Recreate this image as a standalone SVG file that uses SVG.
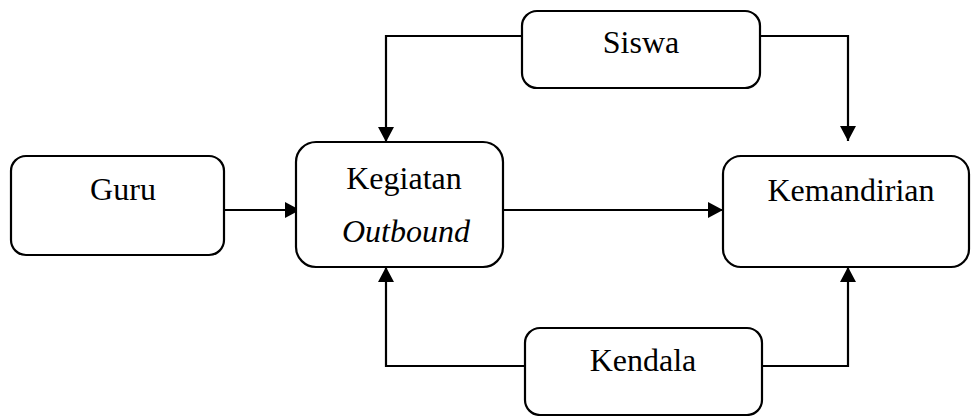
<svg xmlns="http://www.w3.org/2000/svg" width="971" height="416" viewBox="0 0 971 416">
<defs>
<style>
.box{fill:#fff;stroke:#000;stroke-width:2.2}
.t{font-family:"Liberation Serif","Times New Roman",serif;font-size:32px;fill:#000;text-anchor:middle}
.c{fill:none;stroke:#000;stroke-width:2.2}
</style>
<marker id="ah" viewBox="0 0 15 16" refX="15" refY="8" markerWidth="15" markerHeight="16" markerUnits="userSpaceOnUse" orient="auto">
<path d="M0,0 L15,8 L0,16 Z" fill="#000"/>
</marker>
</defs>
<rect width="971" height="416" fill="#fff"/>
<g id="connectors">
<path class="c" d="M224,210 H300" marker-end="url(#ah)"/>
<path class="c" d="M499,210 H723" marker-end="url(#ah)"/>
<path class="c" d="M522,36 H386 V142" marker-end="url(#ah)"/>
<path class="c" d="M760,36 H848 V141" marker-end="url(#ah)"/>
<path class="c" d="M525,366 H386 V267" marker-end="url(#ah)"/>
<path class="c" d="M762,366 H848 V267" marker-end="url(#ah)"/>
</g>
<g id="guru">
<rect class="box" x="11" y="156" width="213" height="99" rx="15"/>
<text class="t" x="123" y="200">Guru</text>
</g>
<g id="kegiatan">
<rect class="box" x="296" y="142" width="207" height="125" rx="20"/>
<text class="t" x="404" y="189">Kegiatan</text>
<text class="t" x="406" y="242" font-style="italic">Outbound</text>
</g>
<g id="kemandirian">
<rect class="box" x="723" y="156" width="246" height="111" rx="18"/>
<text class="t" x="851" y="201">Kemandirian</text>
</g>
<g id="siswa">
<rect class="box" x="522" y="11" width="238" height="77" rx="15"/>
<text class="t" x="641" y="53">Siswa</text>
</g>
<g id="kendala">
<rect class="box" x="525" y="328" width="237" height="87" rx="15"/>
<text class="t" x="643" y="371">Kendala</text>
</g>
</svg>
